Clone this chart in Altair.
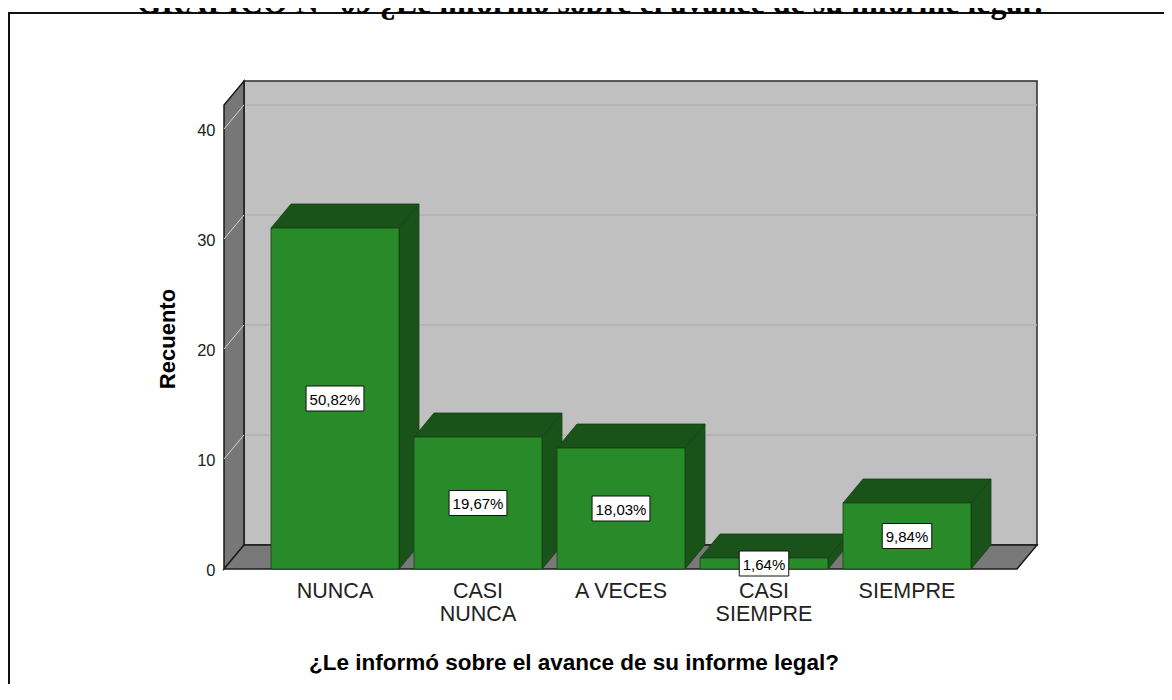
import altair as alt
import pandas as pd

# ---------------- data ----------------
categories = ["NUNCA", "CASI NUNCA", "A VECES", "CASI SIEMPRE", "SIEMPRE"]
axis_labels = ["NUNCA", "CASI\nNUNCA", "A VECES", "CASI\nSIEMPRE", "SIEMPRE"]
counts = [31, 12, 11, 1, 6]
pct_labels = ["50,82%", "19,67%", "18,03%", "1,64%", "9,84%"]
y_ticks = [0, 10, 20, 30, 40]
title_text = "GRÁFICO N° 09 ¿Le informó sobre el avance de su informe legal?"
x_title = "¿Le informó sobre el avance de su informe legal?"
y_title = "Recuento"

# ---------------- layout / style constants ----------------
W, H = 1156, 676
PX0, PXS = 335.0, 143.0   # page x of first category centre, px per category step
PY0, PYS = 569.0, 11.0    # page y of count 0, px per count


def ux(px):
    return (px - PX0) / PXS


def uy(py):
    return (PY0 - py) / PYS


DX = 20.0 / PXS           # depth offset (x) in category units
DY = 24.0 / PYS           # depth offset (y) in count units
HALF = 64.0 / PXS         # half bar width
XL = ux(224)              # front-left corner of floor
XR = ux(1017)             # front-right corner of floor
TOPB = uy(81)             # top of back wall
TOPF = TOPB - DY

FONT = "Liberation Sans, Arial, sans-serif"
GREEN = "#288a28"
DARK = "#1a531a"
EDGE = "#154015"

xs = alt.Scale(domain=[ux(8), ux(8 + W)], nice=False, zero=False)
ys = alt.Scale(domain=[uy(8 + H), uy(8)], nice=False, zero=False)


def X(f):
    return alt.X(f, type="quantitative", scale=xs, axis=None)


def Y(f):
    return alt.Y(f, type="quantitative", scale=ys, axis=None, stack=None)


# ---------------- tables built from the arrays ----------------
bars = pd.DataFrame({"cat": categories, "i": list(range(len(categories))),
                     "v": counts, "pct": pct_labels, "lab": axis_labels})
bars["x0"] = bars["i"] - HALF
bars["x1"] = bars["i"] + HALF
bars["base"] = 0.0
bars["mid"] = bars["v"] / 2.0
fs_pct = 15
bars["bw"] = [(fs_pct * (0.556 * sum(c.isdigit() for c in s) + 0.278 + 0.889) + 7) / PXS for s in pct_labels]
bars["bx0"] = bars["i"] - bars["bw"] / 2
bars["bx1"] = bars["i"] + bars["bw"] / 2
bars["by0"] = bars["mid"] - 12.5 / PYS
bars["by1"] = bars["mid"] + 12.5 / PYS

tops, sides = [], []
for _, r in bars.iterrows():
    v = r["v"]
    tops += [
        {"cat": r["cat"], "x": r["x0"], "y": v, "y2": v},
        {"cat": r["cat"], "x": r["x0"] + DX, "y": v, "y2": v + DY},
        {"cat": r["cat"], "x": r["x1"], "y": v, "y2": v + DY},
        {"cat": r["cat"], "x": r["x1"] + DX, "y": v + DY, "y2": v + DY},
    ]
    sides += [
        {"cat": r["cat"], "x": r["x1"], "y": 0.0, "y2": v},
        {"cat": r["cat"], "x": r["x1"] + DX, "y": DY, "y2": v + DY},
    ]
tops = pd.DataFrame(tops)
sides = pd.DataFrame(sides)

ticks = pd.DataFrame({"t": y_ticks})
ticks["tb"] = ticks["t"] + DY
ticks["lab"] = [str(t) for t in y_ticks]

# ---------------- decorations (walls, floor, frame) ----------------
one = pd.DataFrame({"k": [0]})

frame_left = alt.Chart(one).mark_rule(color="#111111", strokeWidth=2).encode(
    x=alt.value(1), y=alt.value(5), y2=alt.value(H + 8))
frame_top = alt.Chart(one).mark_rule(color="#111111", strokeWidth=2).encode(
    x=alt.value(0), x2=alt.value(W + 8), y=alt.value(5))

top_title = alt.Chart(pd.DataFrame({"x": [ux(592)], "y": [uy(12.5)], "s": [title_text]})).mark_text(
    font="Liberation Serif, Times New Roman, serif", fontSize=32, fontWeight="bold",
    align="center", baseline="alphabetic", color="#000000").encode(
    x=X("x"), y=Y("y"), text="s:N")

back_wall = alt.Chart(pd.DataFrame({"x": [XL + DX], "x2": [XR + DX], "y": [DY], "y2": [TOPB]})).mark_rect(
    fill="#c0c0c0", stroke="#2a2a2a", strokeWidth=1.5).encode(
    x=X("x"), x2="x2:Q", y=Y("y"), y2="y2:Q")

grid_back = alt.Chart(ticks[ticks["t"] > 0]).mark_rule(color="#b0b0b0", strokeWidth=1.5).encode(
    x=alt.datum(XL + DX, type="quantitative", scale=xs, axis=None),
    x2=alt.datum(XR + DX),
    y=Y("tb"))

left_wall = alt.Chart(pd.DataFrame({"g": ["a", "a"], "x": [XL, XL + DX], "y": [0.0, DY], "y2": [TOPF, TOPB]})).mark_area(
    fill="#777777", stroke="#1a1a1a", strokeWidth=1.5).encode(
    x=X("x"), y=Y("y"), y2="y2:Q", detail="g:N")

grid_left = alt.Chart(ticks).mark_rule(color="#d2d2d2", strokeWidth=1).encode(
    x=alt.datum(XL, type="quantitative", scale=xs, axis=None),
    x2=alt.datum(XL + DX),
    y=Y("t"), y2="tb:Q")

floor = alt.Chart(pd.DataFrame({
    "g": ["f"] * 4,
    "x": [XL, XL + DX, XR, XR + DX],
    "y": [0.0, 0.0, 0.0, DY],
    "y2": [0.0, DY, DY, DY]})).mark_area(
    fill="#797979", stroke="#1a1a1a", strokeWidth=1.5).encode(
    x=X("x"), y=Y("y"), y2="y2:Q", detail="g:N")

# ---------------- bars ----------------
bar_sides = alt.Chart(sides).mark_area(fill=DARK, stroke=EDGE, strokeWidth=0.8).encode(
    x=X("x"), y=Y("y"), y2="y2:Q", detail="cat:N")
bar_tops = alt.Chart(tops).mark_area(fill=DARK, stroke=EDGE, strokeWidth=0.8).encode(
    x=X("x"), y=Y("y"), y2="y2:Q", detail="cat:N")
bar_fronts = alt.Chart(bars).mark_rect(fill=GREEN, stroke=EDGE, strokeWidth=0.8).encode(
    x=X("x0"), x2="x1:Q", y=Y("base"), y2="v:Q")

pct_boxes = alt.Chart(bars).mark_rect(fill="#ffffff", stroke="#111111", strokeWidth=1).encode(
    x=X("bx0"), x2="bx1:Q", y=Y("by0"), y2="by1:Q")
pct_text = alt.Chart(bars).mark_text(font=FONT, fontSize=fs_pct, color="#000000",
                                     align="center", baseline="middle", dy=1).encode(
    x=X("i"), y=Y("mid"), text="pct:N")

# ---------------- axis texts ----------------
y_labels = alt.Chart(ticks).mark_text(font=FONT, fontSize=16.5, color="#222222",
                                      align="right", baseline="middle", dy=2).encode(
    x=alt.datum(ux(215.5), type="quantitative", scale=xs, axis=None),
    y=Y("t"), text="lab:N")

x_labels = alt.Chart(bars).mark_text(font=FONT, fontSize=21.5, color="#222222", align="center",
                                     baseline="alphabetic", lineBreak="\n", lineHeight=23).encode(
    x=X("i"),
    y=alt.datum(uy(598), type="quantitative", scale=ys, axis=None),
    text="lab:N")

y_axis_title = alt.Chart(pd.DataFrame({"x": [ux(168)], "y": [uy(339)], "s": [y_title]})).mark_text(
    font=FONT, fontSize=22, fontWeight="bold", color="#000000", angle=270,
    align="center", baseline="middle").encode(x=X("x"), y=Y("y"), text="s:N")

x_axis_title = alt.Chart(pd.DataFrame({"x": [ux(574)], "y": [uy(663)], "s": [x_title]})).mark_text(
    font=FONT, fontSize=22.5, fontWeight="bold", color="#000000",
    align="center", baseline="middle").encode(x=X("x"), y=Y("y"), text="s:N")

chart = alt.layer(
    frame_left, frame_top, top_title,
    back_wall, grid_back, left_wall, grid_left, floor,
    bar_sides, bar_tops, bar_fronts,
    pct_boxes, pct_text,
    y_labels, x_labels, y_axis_title, x_axis_title,
).properties(
    width=W, height=H,
    autosize=alt.AutoSizeParams(type="none"),
    padding=0,
    background="#ffffff",
).configure_view(stroke=None)

chart.save("out.html", embed_options={"renderer": "svg", "actions": False})
